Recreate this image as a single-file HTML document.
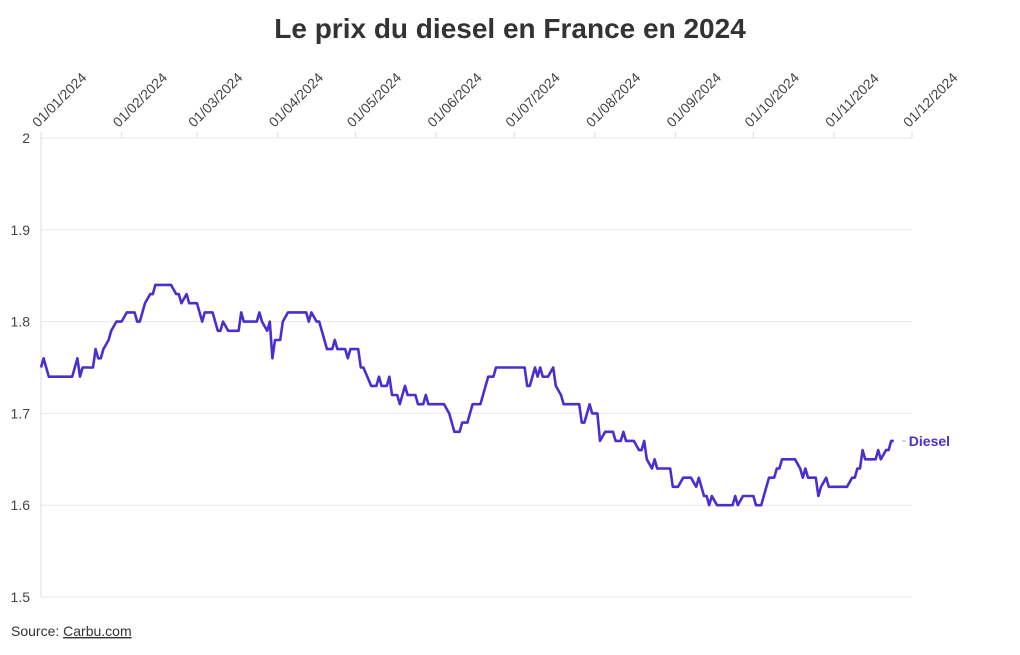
<!DOCTYPE html>
<html><head><meta charset="utf-8"><style>
body{margin:0;background:#fff;width:1020px;height:650px;overflow:hidden;font-family:"Liberation Sans",sans-serif}
svg text{font-family:"Liberation Sans",sans-serif}
</style></head><body>
<svg id="chart" width="1020" height="650" xmlns="http://www.w3.org/2000/svg">
<text x="510" y="38" text-anchor="middle" font-size="28" font-weight="bold" fill="#333">Le prix du diesel en France en 2024</text>
<g id="grid"></g><g id="xaxis"></g><g id="yaxis"></g><g id="series"></g>
<text x="11" y="636" font-size="14" fill="#333">Source: <tspan text-decoration="underline">Carbu.com</tspan></text>
</svg>
<script>
const days=[0,1,2,3,12,14,15,16,20,21,22,23,24,26,27,29,31,33,36,37,38,40,42,43,44,50,52,53,54,56,57,60,62,63,66,68,69,70,72,76,77,78,83,84,85,87,88,89,90,92,93,95,102,103,104,106,107,110,112,113,114,117,118,119,122,123,124,127,129,130,131,133,134,135,137,138,140,141,144,145,147,148,149,155,157,159,161,162,164,165,166,169,171,172,174,175,186,187,188,190,191,192,193,195,197,198,200,201,207,208,209,211,212,214,215,217,220,221,223,224,225,228,230,231,232,233,235,236,237,242,243,245,247,250,252,253,255,256,257,258,260,266,267,268,270,274,275,277,278,280,282,283,284,285,290,292,293,294,295,298,299,300,302,303,310,312,313,314,315,316,317,321,322,323,325,326,327,328];
const prices=[1.75,1.76,1.75,1.74,1.74,1.76,1.74,1.75,1.75,1.77,1.76,1.76,1.77,1.78,1.79,1.80,1.80,1.81,1.81,1.80,1.80,1.82,1.83,1.83,1.84,1.84,1.83,1.83,1.82,1.83,1.82,1.82,1.80,1.81,1.81,1.79,1.79,1.80,1.79,1.79,1.81,1.80,1.80,1.81,1.80,1.79,1.80,1.76,1.78,1.78,1.80,1.81,1.81,1.80,1.81,1.80,1.80,1.77,1.77,1.78,1.77,1.77,1.76,1.77,1.77,1.75,1.75,1.73,1.73,1.74,1.73,1.73,1.74,1.72,1.72,1.71,1.73,1.72,1.72,1.71,1.71,1.72,1.71,1.71,1.70,1.68,1.68,1.69,1.69,1.70,1.71,1.71,1.73,1.74,1.74,1.75,1.75,1.73,1.73,1.75,1.74,1.75,1.74,1.74,1.75,1.73,1.72,1.71,1.71,1.69,1.69,1.71,1.70,1.70,1.67,1.68,1.68,1.67,1.67,1.68,1.67,1.67,1.66,1.66,1.67,1.65,1.64,1.65,1.64,1.64,1.62,1.62,1.63,1.63,1.62,1.63,1.61,1.61,1.60,1.61,1.60,1.60,1.61,1.60,1.61,1.61,1.60,1.60,1.61,1.63,1.63,1.64,1.64,1.65,1.65,1.64,1.63,1.64,1.63,1.63,1.61,1.62,1.63,1.62,1.62,1.63,1.63,1.64,1.64,1.66,1.65,1.65,1.66,1.65,1.66,1.66,1.67,1.67];
const tickDays=[0,31,60,91,121,152,182,213,244,274,305,335];
const tickLabels=["01/01/2024","01/02/2024","01/03/2024","01/04/2024","01/05/2024","01/06/2024","01/07/2024","01/08/2024","01/09/2024","01/10/2024","01/11/2024","01/12/2024"];
const yTicks=[1.5,1.6,1.7,1.8,1.9,2];
const yLabels=["1.5","1.6","1.7","1.8","1.9","2"];
const seriesName="Diesel";

const X0=41,X1=912,Y0=597,Y1=138;
const x=d=>X0+(d/335)*(X1-X0);
const y=v=>Y0-(v-1.5)/0.5*(Y0-Y1);
const NS="http://www.w3.org/2000/svg";
function mk(tag,attrs,parent){const e=document.createElementNS(NS,tag);for(const k in attrs)e.setAttribute(k,attrs[k]);parent.appendChild(e);return e;}
const grid=document.getElementById('grid'),xa=document.getElementById('xaxis'),ya=document.getElementById('yaxis'),se=document.getElementById('series');
yTicks.forEach((v,i)=>{
  const l=mk('line',{x1:X0,x2:X1,y1:y(v),y2:y(v),stroke:'#e8e8e8','stroke-width':1},grid);
  
  
  const t=mk('text',{x:30,y:y(v)+5,'text-anchor':'end','font-size':14,fill:'#444'},ya);
  t.textContent=yLabels[i];
  
  
});
const ax=mk('line',{x1:X0,x2:X0,y1:Y1,y2:Y0,stroke:'#ddd','stroke-width':1},ya);


tickDays.forEach((d,i)=>{
  const tk=mk('line',{x1:x(d),x2:x(d),y1:Y1-6,y2:Y1,stroke:'#ddd','stroke-width':1},xa);
  
  
  const t=mk('text',{x:0,y:0,'font-size':14,fill:'#444',transform:`translate(${x(d)-3},128) rotate(-45)`},xa);
  t.textContent=tickLabels[i];
  
  
});
let dstr='';
days.forEach((d,i)=>{dstr+=(i?'L':'M')+x(d).toFixed(1)+','+y(prices[i]).toFixed(1);});
const p=mk('path',{d:dstr,fill:'none',stroke:'#4a2fd0','stroke-width':2.6,'stroke-linejoin':'round'},se);


const lx=x(days[days.length-1]),ly=y(prices[prices.length-1]);
const dash=mk('line',{x1:lx+8,x2:lx+12,y1:ly,y2:ly,stroke:'#aaa','stroke-width':1},se);


const lab=mk('text',{x:lx+15,y:ly+5,'font-size':14,'font-weight':'bold',fill:'#4a2fd0'},se);
lab.textContent=seriesName;


</script>
</body></html>
